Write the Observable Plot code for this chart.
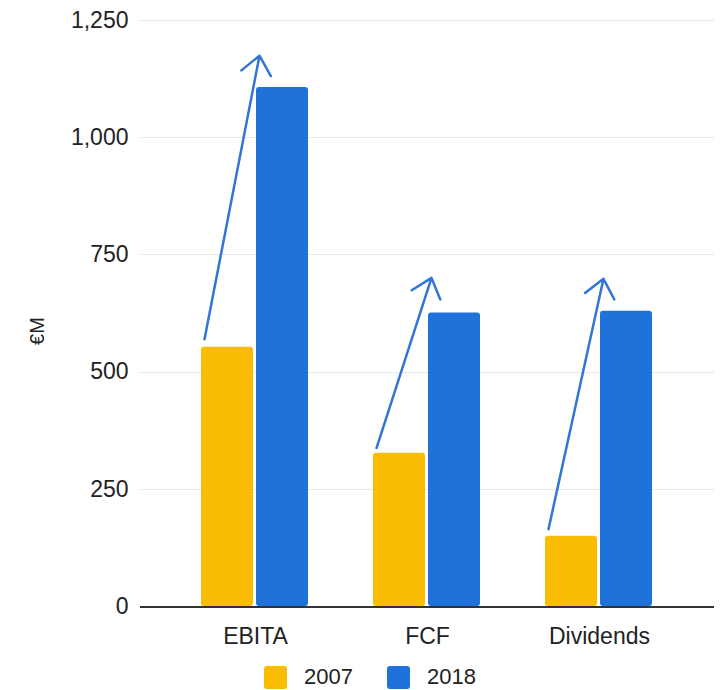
<!DOCTYPE html>
<html><head><meta charset="utf-8">
<script src="https://cdn.jsdelivr.net/npm/d3@7"></script>
<script src="https://cdn.jsdelivr.net/npm/@observablehq/plot@0.6"></script>
<style>
body{margin:0;background:#fff;font-family:Arial,"Liberation Sans",sans-serif;}
#legend{display:flex;justify-content:center;align-items:center;height:24px;margin-top:10px;padding-left:51px;font-size:22px;color:#222;}
#legend .sw{width:23px;height:23px;border-radius:3px;margin-right:17px;}
#legend .lab{margin-right:34px;}
</style>
</head><body><div id="chart"></div>
<script>
const categories = ["EBITA", "FCF", "Dividends"];
const years = ["2007", "2018"];
const values2007 = [553, 327, 150];
const values2018 = [1107, 626, 630];
const arrowFrom = [570, 338, 165];
const arrowTo = [1175, 701, 699];
const yTicks = [0, 250, 500, 750, 1000, 1250];
const colors = ["#fbbc04", "#1f72d9"];

const bars = categories.flatMap((c, i) => [
  {category: c, year: years[0], value: values2007[i]},
  {category: c, year: years[1], value: values2018[i]}
]);
const arrows = categories.map((c, i) => ({category: c, yearFrom: years[0], yearTo: years[1], from: arrowFrom[i], to: arrowTo[i]}));

const chart = Plot.plot({
  width: 723,
  height: 655,
  marginTop: 20,
  marginBottom: 49,
  marginLeft: 140,
  marginRight: 10,
  style: {fontFamily: "Arial, 'Liberation Sans', sans-serif", color: "#222", background: "#fff"},
  fx: {domain: categories, paddingInner: 0, paddingOuter: 0.16},
  x: {domain: years, paddingInner: 0.054, paddingOuter: 0.567, axis: null},
  y: {domain: [0, 1250]},
  color: {domain: years, range: colors},
  marks: [
    Plot.gridY({ticks: yTicks, stroke: "#e6e6e6", strokeOpacity: 1, insetLeft: -29, insetRight: -29, shapeRendering: "crispEdges"}),
    Plot.axisY({ticks: yTicks, tickSize: 0, tickPadding: 41, tickFormat: d3.format(","), fontSize: 23,
      label: null}),
    Plot.axisFx({anchor: "bottom", tickSize: 0, tickPadding: 21, fontSize: 23, label: null}),
    Plot.barY(bars, {fx: "category", x: "year", y: "value", fill: "year", rx: 3}),
    Plot.ruleY([0], {stroke: "#333", strokeWidth: 2, insetLeft: -29, insetRight: -29, shapeRendering: "crispEdges"}),
    Plot.arrow(arrows, {fx: "category", x1: "yearFrom", x2: "yearTo", y1: "from", y2: "to",
      stroke: "#3375d6", strokeWidth: 2.5, headLength: 14, headAngle: 80, dx: -23})
  ]
});
document.getElementById("chart").appendChild(chart);

// y-axis title
const svg = d3.select(chart);
svg.append("text").attr("transform", "translate(44,331) rotate(-90)").attr("text-anchor", "middle")
  .attr("font-size", 20).attr("fill", "#222").text("€M");

const legend = document.createElement("div");
legend.id = "legend";
years.forEach((y, i) => {
  const sw = document.createElement("span"); sw.className = "sw"; sw.style.background = colors[i];
  const lab = document.createElement("span"); lab.className = "lab"; lab.textContent = y;
  legend.append(sw, lab);
});
document.body.appendChild(legend);
</script>
</body></html>
